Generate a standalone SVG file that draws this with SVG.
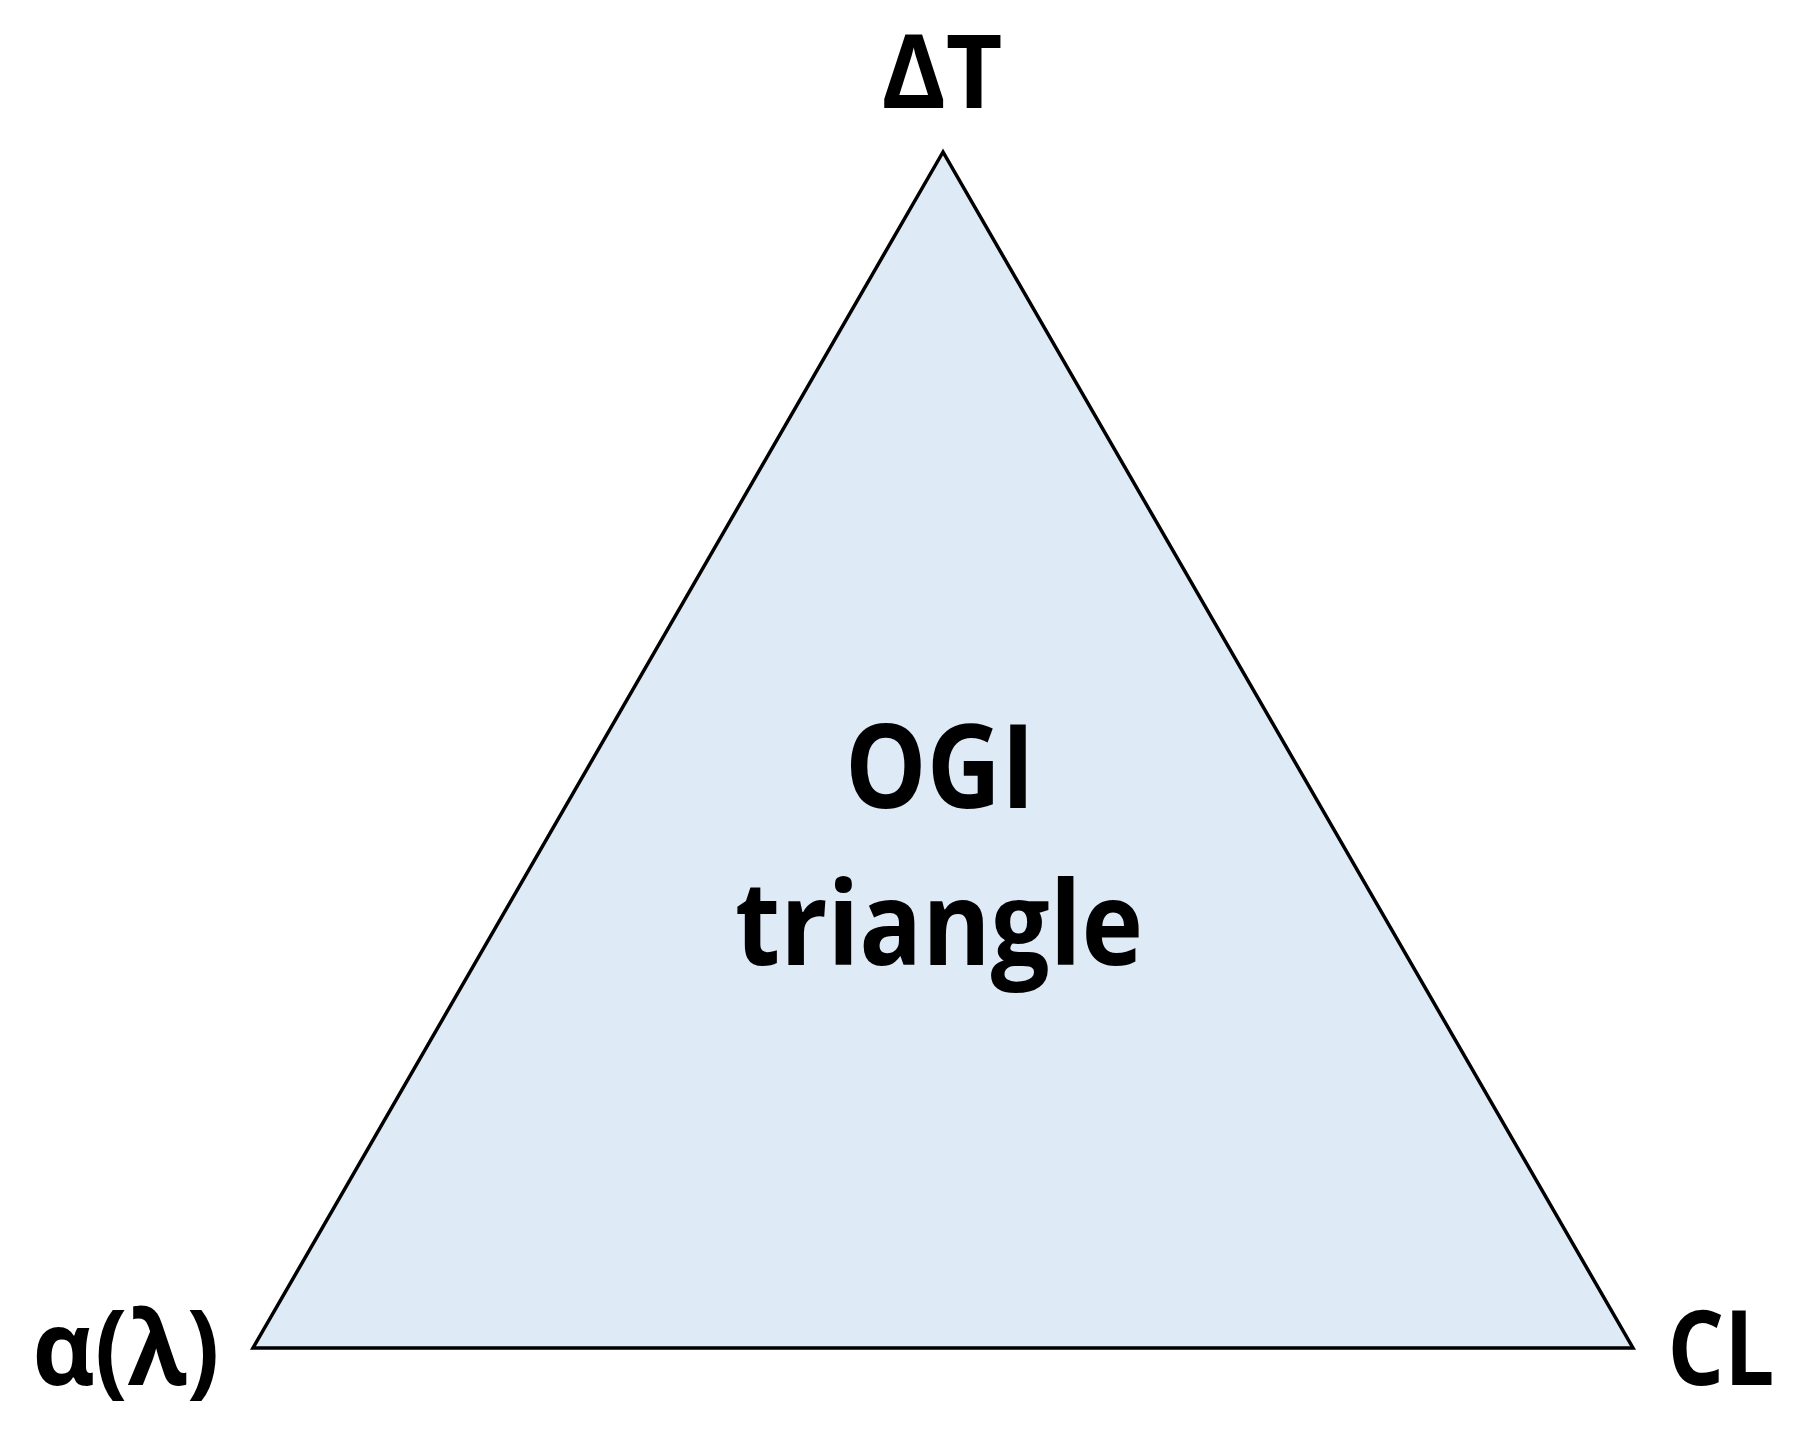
<svg xmlns="http://www.w3.org/2000/svg" width="1805" height="1438" viewBox="0 0 1805 1438">
<style>
.lbl{font-family:"Open Sans","Noto Sans","Liberation Sans",sans-serif;font-weight:bold;fill:#000}
.tri{fill:#DEEAF6;stroke:#000;stroke-width:3.5;stroke-linejoin:miter}
</style>
<rect width="1805" height="1438" fill="#fff"/>
<g id="triangle">
<polygon class="tri" points="943,152 253,1348 1633,1348"/>
<text class="lbl" x="940" y="808" font-size="116" text-anchor="middle" textLength="190" lengthAdjust="spacingAndGlyphs">OGI</text>
<text class="lbl" x="939" y="965" font-size="116" text-anchor="middle" textLength="408" lengthAdjust="spacingAndGlyphs">triangle</text>
</g>
<g id="label-dT">
<text class="lbl" x="942" y="108" font-size="102" text-anchor="middle" textLength="121" lengthAdjust="spacingAndGlyphs">ΔT</text>
</g>
<g id="label-alpha">
<text class="lbl" x="126" y="1385" font-size="104" text-anchor="middle" textLength="187" lengthAdjust="spacingAndGlyphs">α(λ)</text>
</g>
<g id="label-CL">
<text class="lbl" x="1721" y="1385" font-size="104" text-anchor="middle" textLength="107" lengthAdjust="spacingAndGlyphs">CL</text>
</g>
<g id="connectors"></g>
</svg>
